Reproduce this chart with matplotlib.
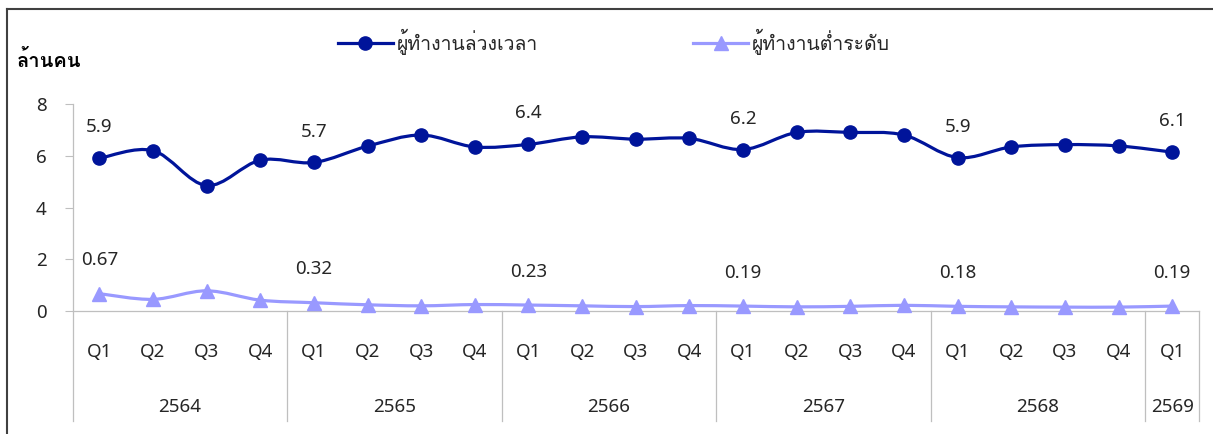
import matplotlib
matplotlib.use("Agg")
import matplotlib.pyplot as plt
import numpy as np
from matplotlib.path import Path
from matplotlib.patches import PathPatch
from matplotlib.lines import Line2D
import matplotlib.transforms as mtransforms

LATIN = ['Noto Sans', 'DejaVu Sans']
THAI = ['Loma', 'Noto Sans', 'DejaVu Sans']
plt.rcParams['font.family'] = LATIN

# ---------------- data ----------------
quarters = ["Q1", "Q2", "Q3", "Q4",
            "Q1", "Q2", "Q3", "Q4",
            "Q1", "Q2", "Q3", "Q4",
            "Q1", "Q2", "Q3", "Q4",
            "Q1", "Q2", "Q3", "Q4",
            "Q1"]
years = ["2564", "2565", "2566", "2567", "2568", "2569"]
quarters_per_year = [4, 4, 4, 4, 4, 1]

overtime = [5.90, 6.20, 4.85, 5.83,
            5.74, 6.37, 6.80, 6.34,
            6.44, 6.73, 6.64, 6.67,
            6.24, 6.90, 6.90, 6.80,
            5.93, 6.34, 6.43, 6.38,
            6.14]
underemployed = [0.67, 0.45, 0.78, 0.42,
                 0.32, 0.24, 0.20, 0.25,
                 0.23, 0.20, 0.17, 0.21,
                 0.19, 0.16, 0.18, 0.22,
                 0.18, 0.16, 0.15, 0.15,
                 0.19]
label_overtime = "ผู้ทำงานล่วงเวลา"
label_under = "ผู้ทำงานต่ำระดับ"
y_unit = "ล้านคน"
y_ticks = [0, 2, 4, 6, 8]

# ---------------- style ----------------
C_OT = "#00149A"
C_UN = "#9999FF"
C_TXT = "#262626"
C_GRID = "#BFBFBF"
FS = 13.5

W, H = 1213, 434
fig = plt.figure(figsize=(W / 100, H / 100), dpi=100)
ax = fig.add_axes([72.5 / W, (H - 311) / H, (1199 - 72.5) / W, (311 - 104) / H])

x = np.arange(len(quarters))


def smooth_path(xs, ys):
    xs = np.asarray(xs, float)
    ys = np.asarray(ys, float)
    n = len(xs)
    verts = [(xs[0], ys[0])]
    codes = [Path.MOVETO]
    for i in range(n - 1):
        p0 = np.array([xs[max(i - 1, 0)], ys[max(i - 1, 0)]])
        p1 = np.array([xs[i], ys[i]])
        p2 = np.array([xs[i + 1], ys[i + 1]])
        p3 = np.array([xs[min(i + 2, n - 1)], ys[min(i + 2, n - 1)]])
        c1 = p1 + (p2 - p0) / 6.0
        c2 = p2 - (p3 - p1) / 6.0
        verts += [tuple(c1), tuple(c2), tuple(p2)]
        codes += [Path.CURVE4] * 3
    return Path(verts, codes)


for ys, col, mk, ms in [(overtime, C_OT, "o", 9.5), (underemployed, C_UN, "^", 10.5)]:
    ax.add_patch(PathPatch(smooth_path(x, ys), facecolor="none", edgecolor=col,
                           lw=2.3, clip_on=False, zorder=3))
    ax.plot(x, ys, linestyle="none", marker=mk, ms=ms, color=col,
            markeredgecolor=col, clip_on=False, zorder=4)

# data labels on Q1 points
for i, q in enumerate(quarters):
    if q == "Q1":
        ax.annotate(f"{overtime[i]:.1f}", (x[i], overtime[i]), xytext=(0, 18.7),
                    textcoords="offset points", ha="center", va="baseline",
                    fontsize=FS, color=C_TXT)
        ax.annotate(f"{underemployed[i]:.2f}", (x[i], underemployed[i]), xytext=(0, 20.5),
                    textcoords="offset points", ha="center", va="baseline",
                    fontsize=FS, color=C_TXT)

ax.set_xlim(-0.5, len(quarters) - 0.5)
ax.set_ylim(0, 8)
ax.set_yticks(y_ticks)
ax.set_yticklabels([str(t) for t in y_ticks], fontsize=FS, color=C_TXT)
ax.tick_params(axis="y", length=5.5, width=0.8, color=C_GRID, pad=13)
ax.set_xticks([])
for s in ["top", "right"]:
    ax.spines[s].set_visible(False)
ax.spines["left"].set_color(C_GRID)
ax.spines["bottom"].set_color(C_GRID)
ax.spines["left"].set_linewidth(0.9)
ax.spines["bottom"].set_linewidth(0.9)
ax.spines["bottom"].set_zorder(2)

# category axis: quarters, years and separators
trans = mtransforms.blended_transform_factory(ax.transData, ax.transAxes)
ppx = 1.0 / (311 - 104)  # axes fraction per pixel
for i, q in enumerate(quarters):
    ax.text(x[i], -46 * ppx, q, transform=trans, ha="center", va="baseline",
            fontsize=FS, color=C_TXT)
bounds = np.concatenate([[0], np.cumsum(quarters_per_year)]) - 0.5
for b in bounds:
    ax.add_line(Line2D([b, b], [0, -110 * ppx], transform=trans, color=C_GRID,
                       lw=0.9, clip_on=False))
for k, yr in enumerate(years):
    ax.text((bounds[k] + bounds[k + 1]) / 2, -101 * ppx, yr, transform=trans,
            ha="center", va="baseline", fontsize=FS, color=C_TXT)

# unit label
fig.text(17 / W, 1 - 60 / H, y_unit, ha="left", va="center", fontsize=14.5,
         fontweight="bold", color="black", family=THAI)

# legend
handles = [Line2D([], [], color=C_OT, lw=2.3, marker="o", ms=9.5),
           Line2D([], [], color=C_UN, lw=2.3, marker="^", ms=10.5)]
leg = fig.legend(handles, [label_overtime, label_under], loc="center",
                 bbox_to_anchor=(614 / W, 1 - 42 / H), ncol=2, frameon=False,
                 prop={"family": THAI, "size": 14}, handlelength=2.8,
                 handletextpad=0.2, columnspacing=8.0, labelcolor=C_TXT)

# outer frame (left and top edges visible)
fig.add_artist(Line2D([7 / W, 7 / W], [0, 1 - 9 / H], transform=fig.transFigure,
                      color="#404040", lw=1.5))
fig.add_artist(Line2D([7 / W, 1], [1 - 9 / H, 1 - 9 / H], transform=fig.transFigure,
                      color="#404040", lw=1.5))

fig.savefig("out.png", dpi=100)
